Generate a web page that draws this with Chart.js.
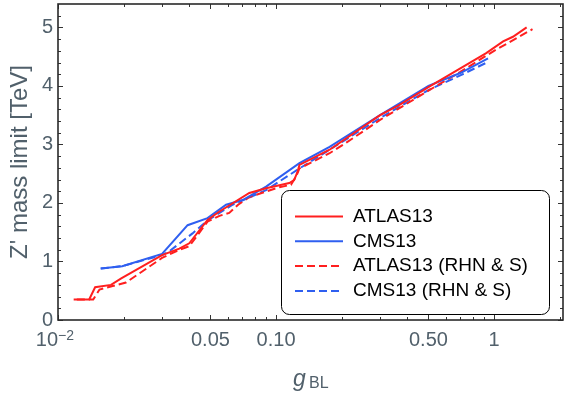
<!DOCTYPE html>
<html><head><meta charset="utf-8">
<script src="https://cdn.jsdelivr.net/npm/chart.js@4/dist/chart.umd.min.js"></script>
<style>html,body{margin:0;padding:0;background:#fff}#wrap{width:566px;height:396px;position:relative}</style>
</head><body><div id="wrap"><canvas id="c" width="566" height="396"></canvas></div>
<script>
// ---- data ----
const atlasX = [0.0118,0.0139,0.0148,0.0175,0.0195,0.030,0.036,0.040,0.0485,0.0548,0.0754,0.090,0.115,0.121,0.1257,0.128,0.176,0.30,0.37,0.50,0.70,0.92,1.10,1.22,1.41];
const atlasY = [0.35,0.35,0.56,0.60,0.71,1.11,1.22,1.31,1.71,1.85,2.17,2.25,2.34,2.39,2.54,2.65,2.91,3.50,3.68,3.98,4.30,4.56,4.76,4.84,5.00];
const cmsX = [0.0157,0.0197,0.030,0.0393,0.0485,0.059,0.0703,0.090,0.128,0.176,0.30,0.50,0.70,0.938];
const cmsY = [0.88,0.92,1.13,1.62,1.74,1.97,2.05,2.28,2.68,2.96,3.50,4.00,4.22,4.47];
const atlasRhnX = [0.0122,0.0145,0.0155,0.0178,0.0205,0.030,0.036,0.040,0.0485,0.055,0.061,0.067,0.0754,0.1036,0.117,0.1235,0.128,0.176,0.21,0.30,0.50,0.70,1.00,1.50];
const atlasRhnY = [0.35,0.35,0.52,0.58,0.64,1.06,1.20,1.26,1.68,1.78,1.83,1.97,2.10,2.27,2.31,2.45,2.59,2.85,3.03,3.42,3.92,4.24,4.60,4.97];
const cmsRhnX = [0.0157,0.0197,0.030,0.0323,0.0414,0.0485,0.0632,0.090,0.128,0.176,0.30,0.50,0.70,0.938];
const cmsRhnY = [0.88,0.92,1.11,1.17,1.48,1.70,1.97,2.22,2.59,2.91,3.45,3.93,4.18,4.41];
const seriesNames = ['ATLAS13','CMS13','ATLAS13 (RHN & S)','CMS13 (RHN & S)'];
const xMajorTicks = [0.01,0.05,0.1,0.5,1];
const xTickLabels = ['','0.05','0.10','0.50','1'];
const xMinorTicks = [0.02,0.03,0.04,0.06,0.07,0.08,0.09,0.2,0.3,0.4,0.6,0.7,0.8,0.9,2];
const yMajorTicks = [0,1,2,3,4,5];
const yMinorTicks = [0.2,0.4,0.6,0.8,1.2,1.4,1.6,1.8,2.2,2.4,2.6,2.8,3.2,3.4,3.6,3.8,4.2,4.4,4.6,4.8,5.2];

const RED = '#ff1f1f', BLUE = '#2f5ff0', AXC = '#51606b', FONT = "'Liberation Sans', Arial, sans-serif";
const pts = (xs, ys) => xs.map((x, i) => ({x, y: ys[i]}));

const framePlugin = {
  id: 'frame',
  afterDraw(chart) {
    const ctx = chart.ctx, a = chart.chartArea;
    const xs = chart.scales.x, ys = chart.scales.y;
    ctx.save();
    ctx.strokeStyle = '#333'; ctx.lineWidth = 1;
    const vt = (v, len) => { const p = Math.round(xs.getPixelForValue(v)) + 0.5;
      ctx.beginPath(); ctx.moveTo(p, a.bottom); ctx.lineTo(p, a.bottom - len);
      ctx.moveTo(p, a.top); ctx.lineTo(p, a.top + len); ctx.stroke(); };
    const ht = (v, len) => { const p = Math.round(ys.getPixelForValue(v)) + 0.5;
      ctx.beginPath(); ctx.moveTo(a.left, p); ctx.lineTo(a.left + len, p);
      ctx.moveTo(a.right, p); ctx.lineTo(a.right - len, p); ctx.stroke(); };
    xMajorTicks.forEach(v => vt(v, 5)); xMinorTicks.forEach(v => vt(v, 3));
    yMajorTicks.forEach(v => ht(v, 5)); yMinorTicks.forEach(v => ht(v, 3));
    ctx.lineWidth = 1.6; ctx.strokeStyle = '#2a2a2a';
    ctx.strokeRect(a.left, a.top, a.right - a.left, a.bottom - a.top);
    ctx.fillStyle = AXC; ctx.textBaseline = 'alphabetic';
    const p0 = xs.getPixelForValue(0.01);
    ctx.font = '20px ' + FONT; ctx.textAlign = 'right';
    ctx.fillText('10', p0, 346);
    ctx.font = '14px ' + FONT; ctx.textAlign = 'left';
    ctx.fillText('\u22122', p0, 340);
    ctx.font = 'italic 23px ' + FONT; ctx.textAlign = 'left';
    ctx.fillText('g', 293, 386);
    ctx.font = '16px ' + FONT;
    ctx.fillText('BL', 309, 388);
    const lx = 281.5, ly = 190.5, lw = 268, lh = 124, r = 8;
    ctx.beginPath();
    ctx.moveTo(lx + r, ly); ctx.lineTo(lx + lw - r, ly); ctx.arcTo(lx + lw, ly, lx + lw, ly + r, r);
    ctx.lineTo(lx + lw, ly + lh - r); ctx.arcTo(lx + lw, ly + lh, lx + lw - r, ly + lh, r);
    ctx.lineTo(lx + r, ly + lh); ctx.arcTo(lx, ly + lh, lx, ly + lh - r, r);
    ctx.lineTo(lx, ly + r); ctx.arcTo(lx, ly, lx + r, ly, r); ctx.closePath();
    ctx.fillStyle = '#fff'; ctx.fill();
    ctx.strokeStyle = '#000'; ctx.lineWidth = 1; ctx.stroke();
    chart.data.datasets.forEach((ds, i) => {
      const yy = 216.5 + i * 24.8;
      ctx.strokeStyle = ds.borderColor; ctx.lineWidth = 2;
      ctx.setLineDash(ds.borderDash || []);
      ctx.beginPath(); ctx.moveTo(295, yy); ctx.lineTo(343, yy); ctx.stroke();
      ctx.setLineDash([]);
      ctx.fillStyle = '#000'; ctx.font = '19px ' + FONT;
      ctx.textAlign = 'left'; ctx.textBaseline = 'middle';
      ctx.fillText(ds.label, 353, yy);
    });
    ctx.restore();
  }
};

new Chart(document.getElementById('c'), {
  type: 'line',
  data: {
    datasets: [
      {label: seriesNames[0], data: pts(atlasX, atlasY), borderColor: RED, borderWidth: 2},
      {label: seriesNames[1], data: pts(cmsX, cmsY), borderColor: BLUE, borderWidth: 2},
      {label: seriesNames[2], data: pts(atlasRhnX, atlasRhnY), borderColor: RED, borderWidth: 2, borderDash: [8, 4]},
      {label: seriesNames[3], data: pts(cmsRhnX, cmsRhnY), borderColor: BLUE, borderWidth: 2, borderDash: [8, 4]}
    ]
  },
  options: {
    responsive: false, animation: false, devicePixelRatio: 1,
    elements: {point: {radius: 0}, line: {tension: 0, fill: false}},
    layout: {padding: {top: 4, right: 3, left: 0, bottom: 0}},
    plugins: {legend: {display: false}, tooltip: {enabled: false}},
    scales: {
      x: {
        type: 'logarithmic', min: 0.01, max: 2.07,
        grid: {display: false, drawTicks: false}, border: {display: false},
        afterBuildTicks: s => { s.ticks = xMajorTicks.map(v => ({value: v})); },
        afterFit: s => { s.height = 76; s.paddingLeft = 0; s.paddingRight = 0; },
        ticks: {
          autoSkip: false, maxRotation: 0, padding: 8, color: AXC,
          font: {family: FONT, size: 20},
          callback: (v) => { const i = xMajorTicks.indexOf(v); return i >= 0 ? xTickLabels[i] : ''; }
        }
      },
      y: {
        type: 'linear', min: 0, max: 5.4,
        grid: {display: false, drawTicks: false}, border: {display: false},
        afterBuildTicks: s => { s.ticks = yMajorTicks.map(v => ({value: v})); },
        afterFit: s => { s.width = 58; s.paddingTop = 0; s.paddingBottom = 0; },
        ticks: {padding: 5, color: AXC, font: {family: FONT, size: 20}, callback: v => String(v)},
        title: {display: true, text: "Z' mass limit [TeV]", color: AXC, font: {family: FONT, size: 24}, padding: {top: 6, bottom: 0}}
      }
    }
  },
  plugins: [framePlugin]
});
</script></body></html>
